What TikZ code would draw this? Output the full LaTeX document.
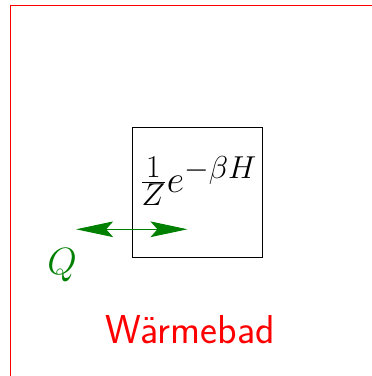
\documentclass[tikz,border=0pt]{standalone}
\usetikzlibrary{arrows.meta}
\begin{document}
\begin{tikzpicture}[x=1cm,y=1cm,
  bath/.style={draw=red,line width=1.1pt},
  sysbox/.style={draw=black,line width=0.6pt},
  heat/.style={draw=green!50!black,line width=0.6pt,
    {Stealth[length=0.85cm,width=0.36cm,inset=0.16cm]}-{Stealth[length=0.85cm,width=0.36cm,inset=0.16cm]}},
  lab/.style={font=\Huge}]
\useasboundingbox (0,0) rectangle (8.552,-8.644);
\clip (0,0) rectangle (8.552,-8.644);
\draw[bath] (0.241,-9) |- (9,-0.126);
\node[sysbox,minimum size=3cm,inner sep=0pt] (sys) at (4.54,-4.42) {};
\node[lab,inner sep=0pt] (rho) at (4.56,-4.16) {$\frac{1}{Z}e^{-\beta H}$};
\coordinate (ql) at (1.75,-5.271);
\coordinate (qr) at (4.31,-5.271);
\draw[heat] (ql) -- (qr);
\node[text=green!50!black,font=\fontsize{25.5}{30}\selectfont,inner sep=0pt] (Q) at (1.43,-6.1) {$Q$};
\node[text=red,font=\fontsize{26.4}{30}\selectfont\sffamily,inner sep=0pt] (bad) at (4.37,-7.57) {Wärmebad};
\end{tikzpicture}
\end{document}
